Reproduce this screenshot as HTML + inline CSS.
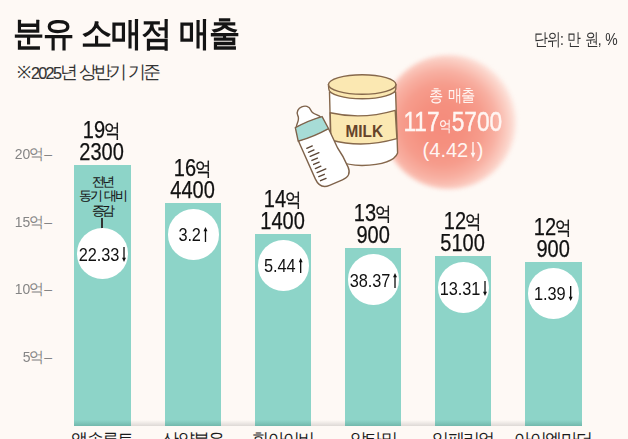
<!DOCTYPE html>
<html><head><meta charset="utf-8">
<style>
*{margin:0;padding:0;box-sizing:border-box}
html,body{width:628px;height:439px;overflow:hidden;background:#fef9f5}
body{position:relative;font-family:"Liberation Sans",sans-serif;color:#111}
.a{position:absolute;white-space:nowrap;line-height:1}
#title{left:13px;top:16px;font-size:34px;font-weight:bold;color:#141414;letter-spacing:-1.2px;transform:scaleX(0.917);transform-origin:0 0}
#sub{left:17px;top:63px;font-size:18px;color:#333;letter-spacing:-3.2px;word-spacing:2.5px}
#sub .d{font-size:16.2px;letter-spacing:-1.7px;margin-right:0px;position:relative;top:0.6px;-webkit-text-stroke:0.15px #333}
#sub .r{font-size:17px;letter-spacing:0}
#unit{left:534px;top:31px;font-size:17px;color:#333;letter-spacing:-1.2px;word-spacing:2px;transform:scaleX(0.82);transform-origin:0 0}
.bar{position:absolute;width:56.8px;background:#8dd4c8;bottom:13.5px}
.bar::after{content:"";position:absolute;left:0;right:0;bottom:0;height:6px;background:linear-gradient(#8dd4c8,#72b8ac)}
.shadow{position:absolute;left:74.2px;width:507.4px;top:419.5px;height:6px;background:linear-gradient(rgba(0,0,0,0),rgba(0,0,0,0.13))}
.ylab{position:absolute;left:0;width:52px;text-align:right;font-size:15.5px;line-height:1;color:#858585;white-space:nowrap;letter-spacing:0}
.ylab .n{display:inline-block;transform:scaleX(0.9);transform-origin:100% 50%;margin-right:-1.5px}
.ylab .k{font-size:14.5px;letter-spacing:0;margin-left:0}
.ylab .t{margin-left:0px;letter-spacing:0;font-size:14px}
.val{position:absolute;width:90px;text-align:center;font-size:23px;line-height:22px;color:#111;white-space:nowrap;letter-spacing:0px}
.val .sx{display:inline-block;transform:scaleX(0.87);-webkit-text-stroke:0.25px #111}
.val .k{font-size:19px;letter-spacing:0;line-height:1px;margin-left:-1.5px;position:relative;top:-1.5px}
.circ{position:absolute;width:50.5px;height:50.5px;border-radius:50%;background:#fff;display:flex;align-items:center;justify-content:center;font-size:19px;letter-spacing:-1.5px;color:#111;white-space:nowrap;line-height:1}
.circ span{position:relative;top:0.5px;left:0px;display:inline-block;transform:scaleX(0.86);letter-spacing:-0.1px}
.ar{display:inline-block;vertical-align:-1px;margin-left:3px;transform:scaleX(1.1)}
.blab{position:absolute;width:90px;text-align:center;font-size:17px;line-height:1;color:#1a1a1a;top:431px;white-space:nowrap;letter-spacing:-1.6px}
#pink{position:absolute;left:382px;top:54.5px;width:134px;height:134px;border-radius:50%;filter:blur(2.2px);
background:radial-gradient(circle farthest-side at 45% 52%,#f58b7c 0%,#f5907f 30%,#f69c8c 55%,#f8b0a2 73%,#fbccc1 88%,#fde6df 100%)}
.ptx{position:absolute;width:140px;left:386px;text-align:center;color:#fff5f2;white-space:nowrap;line-height:1}
.note{position:absolute;left:74px;width:57px;text-align:center;font-size:13px;line-height:14.5px;color:#151515;white-space:nowrap;letter-spacing:-2.2px;word-spacing:2px;-webkit-text-stroke:0.1px #151515}
</style></head><body>
<div id="title" class="a">분유 소매점 매출</div>
<div id="sub" class="a"><span class="r">※</span><span class="d">2025</span>년 상반기 기준</div>
<div id="unit" class="a">단위: 만 원, %</div>

<div id="pink"></div>
<div class="ptx" style="top:86.5px;left:382px;font-size:17px;letter-spacing:-1px;word-spacing:2px"><span style="display:inline-block;transform:scaleX(0.84)">총 매출</span></div>
<div class="ptx" style="top:108.5px;left:383px;font-size:27px;letter-spacing:0px"><span style="display:inline-block;transform:scaleX(0.84);-webkit-text-stroke:0.45px #fff5f2">117<span style="font-size:14.5px;margin:0 0 0 -0.5px;-webkit-text-stroke:0.1px #fff5f2">억</span>5700</span></div>
<div class="ptx" style="top:139.8px;left:383px;font-size:20px;letter-spacing:0px">(4.42<svg width="6" height="16" viewBox="0 0 6 16" style="vertical-align:-1px;margin:0 0.5px 0 2px"><path d="M3 16L5.3 10.8H0.7Z M2.3 11H3.7V0H2.3Z" fill="#fff5f2"/></svg>)</div>

<svg style="position:absolute;left:0;top:0" width="628" height="439" viewBox="0 0 628 439">
 <g stroke="#86684c" stroke-width="1.4" stroke-linejoin="round" stroke-linecap="round">
  <!-- can body -->
  <path d="M329.5 92 L331 152 Q333 164.5 362 165.5 Q393.5 164.5 397.6 153 L395.6 92 Z" fill="#fff"/>
  <path d="M330.2 112.7 Q362 120 395.2 110.3 L396.9 138.7 Q362 148.5 330.9 140 Z" fill="#fbe8b2"/>
  <!-- lid rim -->
  <path d="M328.4 84.5 L328.8 89 A33.5 9.8 0 0 0 395.8 89 L395.9 84.5 Z" fill="#fbe8b2"/>
  <ellipse cx="362.2" cy="84.5" rx="33.7" ry="9.8" fill="#fbe8b2"/>
 </g>
 <text x="345.5" y="137" textLength="37.5" lengthAdjust="spacingAndGlyphs" font-family="Liberation Sans" font-weight="bold" font-size="16.8" fill="#65432a">MILK</text>
 <g transform="translate(310.9 128.6) rotate(-23)" stroke="#7f634b" stroke-width="1.4" stroke-linejoin="round" stroke-linecap="round">
  <path d="M-16.3 6.8 L-15.6 48 Q-15.3 59.5 -5 59.5 L9 59.5 Q19.2 59.5 19.2 50 Q19.2 38 17 28 L16.2 6.8 Z" fill="#fff"/>
  <path d="M-13 -6.8 C-11.5 -10.5 -6.5 -12 -7 -17 C-7.5 -25.5 7.5 -26 7.2 -17 C7 -12 12.5 -10.5 13.5 -6.8 Z" fill="#fff"/>
  <path d="M-14 -6.9 Q0.5 -8.6 15 -6.7 L16.2 6.8 Q0 8.6 -16.6 6.6 Z" fill="#a7dcd6"/>
  <path d="M-11.5 16.50 h6.0 M-11.5 20.90 h6.0 M-11.5 25.30 h9.5 M-11.5 29.70 h6.0 M-11.5 34.10 h6.0 M-11.5 38.50 h6.0 M-11.5 42.90 h9.5 M-11.5 47.30 h6.0 M-11.5 51.70 h6.0" stroke="#5a4535" stroke-width="1.35"/>
 </g>
</svg>

<div class="ylab" style="top:146px"><span class="n">20</span><span class="k">억</span><span class="t">–</span></div>
<div class="ylab" style="top:214px"><span class="n">15</span><span class="k">억</span><span class="t">–</span></div>
<div class="ylab" style="top:281px"><span class="n">10</span><span class="k">억</span><span class="t">–</span></div>
<div class="ylab" style="top:349px"><span class="n">5</span><span class="k">억</span><span class="t">–</span></div>

<div class="shadow"></div>
<div class="bar" style="left:74.2px;top:165px"></div>
<div class="bar" style="left:164.6px;top:203.2px"></div>
<div class="bar" style="left:254.6px;top:233.9px"></div>
<div class="bar" style="left:344.7px;top:248.2px"></div>
<div class="bar" style="left:434.7px;top:256.2px"></div>
<div class="bar" style="left:524.8px;top:261.9px"></div>

<div class="val" style="left:57px;top:119px"><span class="sx">19<span class="k">억</span></span><br><span class="sx">2300</span></div>
<div class="val" style="left:148px;top:157px"><span class="sx">16<span class="k">억</span></span><br><span class="sx">4400</span></div>
<div class="val" style="left:238px;top:188px"><span class="sx">14<span class="k">억</span></span><br><span class="sx">1400</span></div>
<div class="val" style="left:328px;top:202px"><span class="sx">13<span class="k">억</span></span><br><span class="sx">900</span></div>
<div class="val" style="left:418px;top:210px"><span class="sx">12<span class="k">억</span></span><br><span class="sx">5100</span></div>
<div class="val" style="left:508px;top:216px"><span class="sx">12<span class="k">억</span></span><br><span class="sx">900</span></div>

<div class="note" style="top:174.5px">전년<br>동기 대비<br>증감</div>
<div style="position:absolute;left:101px;top:218px;width:2px;height:11px;background:#333"></div>



<div class="circ" style="left:77.25px;top:228.35px"><span>22.33<svg class="ar" width="5" height="15" viewBox="0 0 5 15"><path d="M2.5 15L4.6 10.7H0.4Z M1.8 11H3.2V0H1.8Z" fill="#111"/></svg></span></div>
<div class="circ" style="left:168.25px;top:209.15px"><span>3.2<svg class="ar" width="5" height="15" viewBox="0 0 5 15"><path d="M2.5 0L4.6 4.3H0.4Z M1.8 4H3.2V15H1.8Z" fill="#111"/></svg></span></div>
<div class="circ" style="left:258.25px;top:240.15px"><span>5.44<svg class="ar" width="5" height="15" viewBox="0 0 5 15"><path d="M2.5 0L4.6 4.3H0.4Z M1.8 4H3.2V15H1.8Z" fill="#111"/></svg></span></div>
<div class="circ" style="left:348.25px;top:254.45px"><span>38.37<svg class="ar" width="5" height="15" viewBox="0 0 5 15"><path d="M2.5 0L4.6 4.3H0.4Z M1.8 4H3.2V15H1.8Z" fill="#111"/></svg></span></div>
<div class="circ" style="left:438.25px;top:262.45px"><span>13.31<svg class="ar" width="5" height="15" viewBox="0 0 5 15"><path d="M2.5 15L4.6 10.7H0.4Z M1.8 11H3.2V0H1.8Z" fill="#111"/></svg></span></div>
<div class="circ" style="left:528.25px;top:268.15px"><span>1.39<svg class="ar" width="5" height="15" viewBox="0 0 5 15"><path d="M2.5 15L4.6 10.7H0.4Z M1.8 11H3.2V0H1.8Z" fill="#111"/></svg></span></div>

<div class="blab" style="left:57px">앱솔루트</div>
<div class="blab" style="left:148px">산양분유</div>
<div class="blab" style="left:238px">힐아이비</div>
<div class="blab" style="left:328px">압타밀</div>
<div class="blab" style="left:418px">임페리얼</div>
<div class="blab" style="left:508px">아이엠마더</div>
</body></html>
